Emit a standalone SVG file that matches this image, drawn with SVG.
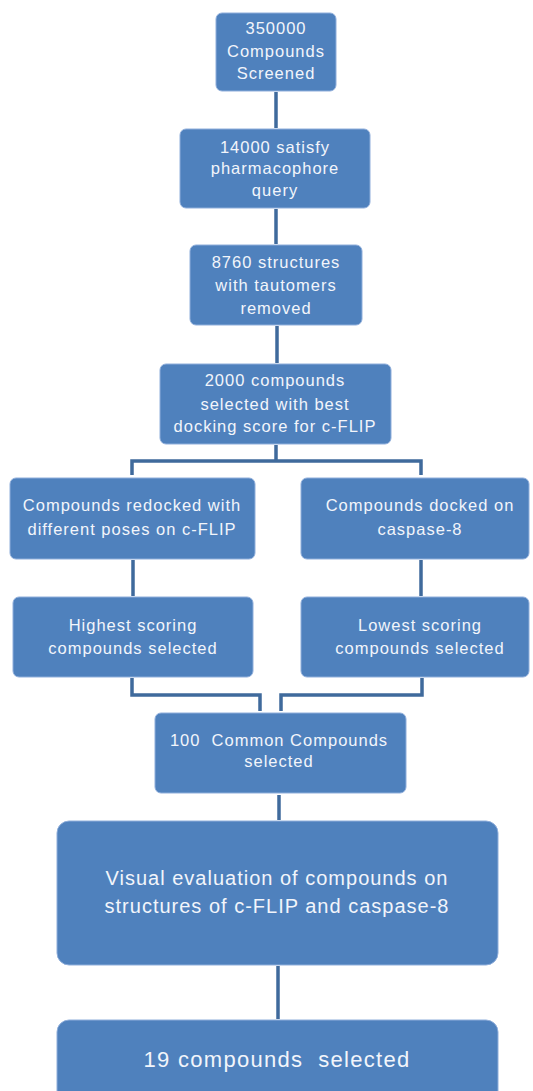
<svg xmlns="http://www.w3.org/2000/svg" width="533" height="1091" viewBox="0 0 533 1091">
<style>
.box{fill:#4F81BD;stroke:#8FAEDB;stroke-width:1}
.t{font-family:"Liberation Sans",Arial,sans-serif;fill:#F2F5FB;text-anchor:middle;font-size:16.5px;letter-spacing:1px}
.big{font-size:20px;letter-spacing:1px}
.huge{font-size:22px;letter-spacing:1.3px}
.c{fill:none;stroke:#3F6A9C;stroke-width:3.5}
</style>
<rect width="533" height="1091" fill="#FFFFFF"/>
<g id="connectors">
<line class="c" x1="276" y1="92" x2="276" y2="128"/>
<line class="c" x1="276" y1="209" x2="276" y2="244"/>
<line class="c" x1="277" y1="326" x2="277" y2="363"/>
<path class="c" d="M276 445 V461 M132 475 V461 H421 V475"/>
<line class="c" x1="133" y1="560" x2="133" y2="596"/>
<line class="c" x1="421" y1="560" x2="421" y2="596"/>
<path class="c" d="M132 678 V695 H260 V711"/>
<path class="c" d="M422 678 V695 H281 V711"/>
<line class="c" x1="279" y1="795" x2="279" y2="820"/>
<line class="c" x1="278" y1="966" x2="278" y2="1019"/>
</g>
<g id="n1"><rect class="box" x="216" y="13" width="120" height="78" rx="6"/>
<text class="t" x="276" y="34">350000</text><text class="t" x="276" y="57">Compounds</text><text class="t" x="276" y="79">Screened</text></g>
<g id="n2"><rect class="box" x="180" y="129" width="190" height="79" rx="6"/>
<text class="t" x="275" y="153">14000 satisfy</text><text class="t" x="275" y="174">pharmacophore</text><text class="t" x="275" y="196">query</text></g>
<g id="n3"><rect class="box" x="190" y="245" width="172" height="80" rx="6"/>
<text class="t" x="276" y="268">8760 structures</text><text class="t" x="276" y="291">with tautomers</text><text class="t" x="276" y="314">removed</text></g>
<g id="n4"><rect class="box" x="160" y="364" width="231" height="80" rx="6"/>
<text class="t" x="275" y="386">2000 compounds</text><text class="t" x="275" y="410">selected with best</text><text class="t" x="275" y="432">docking score for c-FLIP</text></g>
<g id="n5"><rect class="box" x="10" y="478" width="245" height="81" rx="6"/>
<text class="t" x="132" y="511">Compounds redocked with</text><text class="t" x="132" y="535">different poses on c-FLIP</text></g>
<g id="n6"><rect class="box" x="301" y="478" width="228" height="81" rx="6"/>
<text class="t" x="420" y="511">Compounds docked on</text><text class="t" x="420" y="535">caspase-8</text></g>
<g id="n7"><rect class="box" x="13" y="597" width="240" height="80" rx="6"/>
<text class="t" x="133" y="631">Highest scoring</text><text class="t" x="133" y="654">compounds selected</text></g>
<g id="n8"><rect class="box" x="301" y="597" width="228" height="80" rx="6"/>
<text class="t" x="420" y="631">Lowest scoring</text><text class="t" x="420" y="654">compounds selected</text></g>
<g id="n9"><rect class="box" x="155" y="713" width="251" height="80" rx="6"/>
<text class="t" x="279" y="746">100&#160; Common Compounds</text><text class="t" x="279" y="767">selected</text></g>
<g id="n10"><rect class="box" x="57" y="821" width="441" height="144" rx="12"/>
<text class="t big" x="277" y="885">Visual evaluation of compounds on</text><text class="t big" x="277" y="913">structures of c-FLIP and caspase-8</text></g>
<g id="n11"><rect class="box" x="57" y="1020" width="441" height="90" rx="12"/>
<text class="t huge" x="277" y="1067">19 compounds&#160; selected</text></g>
</svg>
